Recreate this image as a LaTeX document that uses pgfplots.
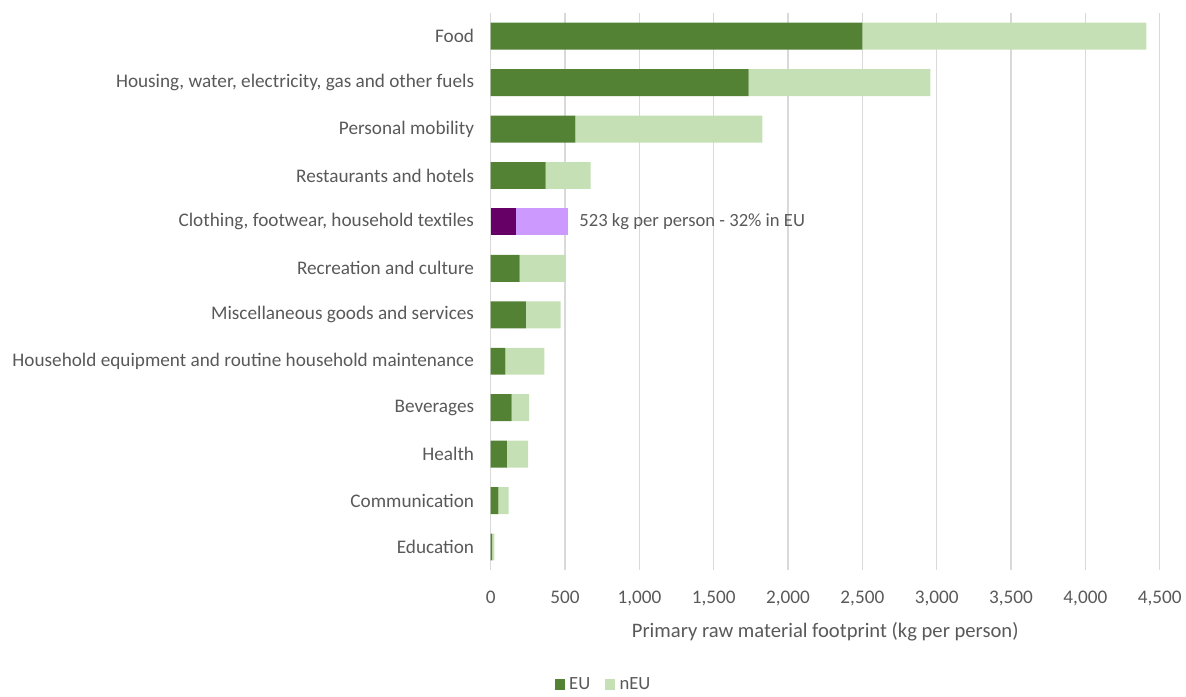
\documentclass[border=0pt]{standalone}
\usepackage{fontspec}
\setmainfont{Carlito}
\usepackage{pgfplots}
\pgfplotsset{compat=1.18}
\definecolor{eu}{HTML}{548235}
\definecolor{neu}{HTML}{C5E0B4}
\definecolor{peu}{HTML}{660066}
\definecolor{pneu}{HTML}{CC99FF}
\definecolor{txt}{HTML}{595959}
\definecolor{grd}{HTML}{D9D9D9}
\begin{document}
\begin{tikzpicture}
\begin{axis}[
  name=ax,
  scale only axis,
  width=503pt, height=419pt,
  xbar stacked,
  bar width=20.25pt,
  xmin=0, xmax=4500,
  ymin=-0.5, ymax=11.5,
  y dir=reverse,
  ytick={0,...,11},
  yticklabels={Food,{Housing, water, electricity, gas and other fuels},Personal mobility,Restaurants and hotels,{Clothing, footwear, household textiles},Recreation and culture,Miscellaneous goods and services,Household equipment and routine household maintenance,Beverages,Health,Communication,Education},
  xtick={0,500,...,4500},
  scaled x ticks=false,
  /pgf/number format/.cd, 1000 sep={,}, assume math mode=true, /pgfplots/.cd,
  xmajorgrids,
  grid style={grd, line width=1.1pt},
  axis line style={draw=none},
  major tick length=0pt,
  tick label style={font=\fontsize{14.45}{16}\selectfont, text=txt},
  yticklabel style={xshift=-9pt},
  xticklabel style={yshift=-12pt},
  xlabel={Primary raw material footprint (kg per person)},
  xlabel style={font=\fontsize{15.5}{18}\selectfont, text=txt, yshift=-6pt},
  legend style={at={(0.169,-0.205)}, anchor=center, draw=none, legend columns=2,
    font=\fontsize{14}{15}\selectfont, text=txt,
    /tikz/every even column/.append style={column sep=9pt}},
  legend image code/.code={\fill[#1] (0pt,-4pt) rectangle (7.5pt,4pt); \path (9pt,0pt);},
]
\addplot[fill=eu, draw=none] coordinates {(2500,0) (1734,1) (569,2) (370,3) (0,4) (195,5) (237,6) (99,7) (141,8) (108,9) (52,10) (10,11)};
\addlegendentry{EU}
\addplot[fill=neu, draw=none] coordinates {(1910,0) (1224,1) (1258,2) (302,3) (0,4) (311,5) (233,6) (262,7) (117,8) (143,9) (69,10) (14,11)};
\addlegendentry{nEU}
\addplot[fill=peu, draw=none, forget plot] coordinates {(0,0) (0,1) (0,2) (0,3) (167,4) (0,5) (0,6) (0,7) (0,8) (0,9) (0,10) (0,11)};
\addplot[fill=pneu, draw=none, forget plot] coordinates {(0,0) (0,1) (0,2) (0,3) (356,4) (0,5) (0,6) (0,7) (0,8) (0,9) (0,10) (0,11)};
\node[anchor=west, text=txt, font=\fontsize{14}{16}\selectfont, inner sep=0pt] at (axis cs:523,4) [xshift=8pt] {523 kg per person - 32\% in EU};
\end{axis}
\path[use as bounding box] ([shift={(-369pt,-90pt)}]ax.south west) rectangle ([shift={(17.5pt,9.75pt)}]ax.north east);
\end{tikzpicture}
\end{document}
